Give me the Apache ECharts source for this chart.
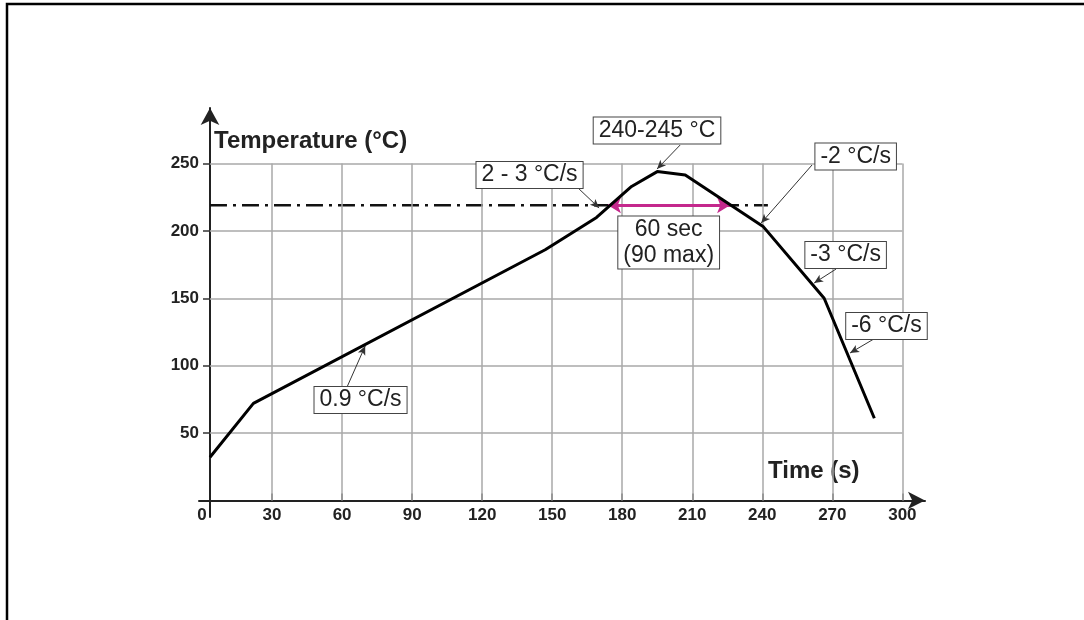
<!DOCTYPE html>
<html><head><meta charset="utf-8">
<script src="https://cdn.jsdelivr.net/npm/echarts@6/dist/echarts.min.js"></script>
<style>html,body{margin:0;padding:0;background:#fff}#c{width:1084px;height:620px}</style>
</head><body><div id="c"></div>
<script>
// ---- data ----
const TIME = [3.4, 22, 147, 169, 184, 195, 207, 240.5, 266.5, 288];
const TEMP = [32, 72, 186, 210, 233, 244, 241.5, 203, 150, 61];
const X_TICKS = [0, 30, 60, 90, 120, 150, 180, 210, 240, 270, 300];
const Y_TICKS = [50, 100, 150, 200, 250];
const PEAK_LINE_TEMP = 219;
const PEAK_LINE_SPAN = [3.4, 242.4];
const TAL_SPAN = [173.9, 226.2];
const LABEL_TEXT = ['240-245 °C', '2 - 3 °C/s', '60 sec\n(90 max)', '-2 °C/s', '-3 °C/s', '-6 °C/s', '0.9 °C/s'];
const LABEL_AT = [[194.9, 274.5], [140.3, 241.5], [199.9, 191.4], [280.0, 255.2], [275.7, 182.1], [293.2, 129.4], [67.9, 74.5]];
const ARROW_FROM = [[204.8, 263.7], [161.1, 231.8], null, [261.3, 248.9], [271.6, 171.7], [287.5, 119.5], [62.1, 84.1]];
const ARROW_TO = [[194.9, 245.9], [170.1, 217.0], null, [239.5, 205.8], [262.2, 161.3], [277.6, 109.4], [69.9, 114.6]];
const X_NAME = 'Time (s)';
const Y_NAME = 'Temperature (°C)';

// ---- chart ----
const FONT = "'Liberation Sans', Arial, Helvetica, sans-serif";
const chart = echarts.init(document.getElementById('c'));
const yTop = Y_TICKS[Y_TICKS.length - 1];
const xRight = X_TICKS[X_TICKS.length - 1];
const yAxisAt = TIME[0];

const gridLines = [];
X_TICKS.filter(v => v > 0).forEach(v => gridLines.push([{ coord: [v, 0] }, { coord: [v, yTop] }]));
Y_TICKS.forEach(v => gridLines.push([{ coord: [yAxisAt, v] }, { coord: [xRight, v] }]));

const arrowLines = [];
ARROW_FROM.forEach((f, i) => { if (f) arrowLines.push([{ coord: f }, { coord: ARROW_TO[i] }]); });

const option = {
  animation: false,
  backgroundColor: '#fff',
  grid: { left: 199, right: 159, top: 108, bottom: 103, containLabel: false, outerBoundsMode: 'none' },
  xAxis: {
    type: 'value', min: -1.3, max: 309.7,
    axisLine: { onZero: true, symbol: ['none', 'arrow'], symbolSize: [13, 17], lineStyle: { color: '#222', width: 2 } },
    axisTick: { show: true, inside: true, length: 7, customValues: X_TICKS.slice(1), lineStyle: { color: '#333', width: 1.5 } },
    axisLabel: { customValues: X_TICKS, fontSize: 17, fontWeight: 'bold', color: '#222', margin: -10, fontFamily: FONT },
    splitLine: { show: false }
  },
  yAxis: {
    type: 'value', min: -12.3, max: 291.2, offset: -11,
    axisLine: { onZero: false, show: true, symbol: ['none', 'arrow'], symbolSize: [14, 17], lineStyle: { color: '#222', width: 2 } },
    axisTick: { show: true, inside: false, length: 7, customValues: Y_TICKS, lineStyle: { color: '#333', width: 1.5 } },
    axisLabel: { customValues: Y_TICKS, fontSize: 17, fontWeight: 'bold', color: '#222', margin: 11, fontFamily: FONT },
    splitLine: { show: false }
  },
  graphic: [
    { type: 'polyline', silent: true, shape: { points: [[7, 620], [7, 4], [1084, 4]] }, style: { stroke: '#000', lineWidth: 2.5, fill: null } },
    { type: 'text', x: 214, y: 129, silent: true, style: { text: Y_NAME, font: 'bold 24px ' + FONT, fill: '#222', align: 'left', verticalAlign: 'top' } },
    { type: 'text', x: 768, y: 459, silent: true, style: { text: X_NAME, font: 'bold 24px ' + FONT, fill: '#222', align: 'left', verticalAlign: 'top' } }
  ],
  series: [
    {
      name: 'grid', type: 'line', data: [], silent: true, z: 1,
      markLine: { silent: true, symbol: ['none', 'none'], label: { show: false }, emphasis: { disabled: true },
        lineStyle: { color: '#a9a9a9', width: 1.5, type: 'solid' }, data: gridLines, animation: false }
    },
    {
      name: 'peak line', type: 'line', symbol: 'none', silent: true, z: 3,
      data: PEAK_LINE_SPAN.map(t => [t, PEAK_LINE_TEMP]),
      lineStyle: { color: '#111', width: 2.5, type: [17, 6, 3, 6] }
    },
    {
      name: 'profile', type: 'line', symbol: 'none', silent: true, z: 5,
      data: TIME.map((t, i) => [t, TEMP[i]]),
      lineStyle: { color: '#000', width: 3 }
    },
    {
      name: 'tal', type: 'line', data: [], silent: true, z: 6,
      markLine: { silent: true, symbol: ['arrow', 'arrow'], symbolSize: [12, 13], label: { show: false }, emphasis: { disabled: true },
        lineStyle: { color: '#c4288c', width: 3, type: 'solid' },
        data: [[{ coord: [TAL_SPAN[0], PEAK_LINE_TEMP] }, { coord: [TAL_SPAN[1], PEAK_LINE_TEMP] }]], animation: false }
    },
    {
      name: 'notes', type: 'line', data: [], silent: true, z: 8,
      markLine: { silent: true, symbol: ['none', 'arrow'], symbolSize: [6, 9], label: { show: false }, emphasis: { disabled: true },
        lineStyle: { color: '#333', width: 1, type: 'solid' }, data: arrowLines, animation: false },
      markPoint: {
        silent: true, symbol: 'rect', symbolSize: 0, animation: false,
        label: { show: true, position: 'inside', formatter: p => p.name, color: '#222', fontSize: 23, lineHeight: 26,
          fontFamily: FONT, backgroundColor: '#fff', borderColor: '#444', borderWidth: 1, padding: [0, 5, 0, 5], align: 'center' },
        data: LABEL_TEXT.map((t, i) => ({ name: t, coord: LABEL_AT[i] }))
      }
    }
  ]
};
chart.setOption(option);
</script></body></html>
